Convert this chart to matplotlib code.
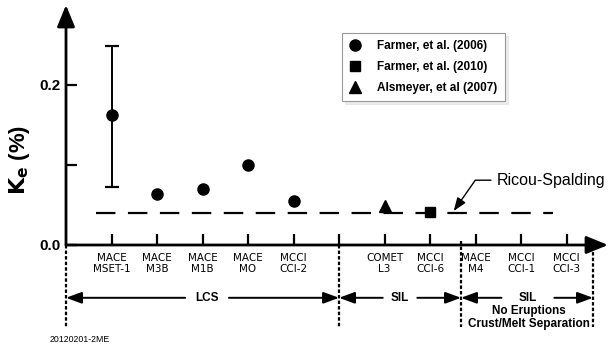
import numpy as np
import matplotlib.pyplot as plt

plt.rcParams['lines.scale_dashes'] = False

# categories along the x axis (slot 6 is the LCS / SIL separator)
categories = ["MACE\nMSET-1", "MACE\nM3B", "MACE\nM1B", "MACE\nMO", "MCCI\nCCI-2",
              "COMET\nL3", "MCCI\nCCI-6", "MACE\nM4", "MCCI\nCCI-1", "MCCI\nCCI-3"]
cat_x = np.array([1, 2, 3, 4, 5, 7, 8, 9, 10, 11])

# Farmer, et al. (2006)
farmer06_cats = ["MACE\nMSET-1", "MACE\nM3B", "MACE\nM1B", "MACE\nMO", "MCCI\nCCI-2"]
farmer06_ke = [0.1625, 0.064, 0.070, 0.100, 0.055]
mset1_low, mset1_high = 0.0725, 0.249
# Farmer, et al. (2010)
farmer10_cats = ["MCCI\nCCI-6"]
farmer10_ke = [0.041]
# Alsmeyer, et al (2007)
alsmeyer_cats = ["COMET\nL3"]
alsmeyer_ke = [0.049]
ricou_spalding = 0.040

separators = [0, 6, 8.68, 11.58]
groups = [(["LCS"], 0, 6, 3.10, 0.48), (["SIL"], 6, 8.68, 7.34, 0.38),
          (["SIL", "No Eruptions", "Crust/Melt Separation"], 8.68, 11.58, 10.15, 0.58)]

pos = dict(zip(categories, cat_x))
bold = dict(family='Liberation Sans', weight='bold')

fig = plt.figure(figsize=(6.11, 3.5), dpi=100)
ax = fig.add_axes([66 / 611, 105 / 350, 542 / 611, 240 / 350])
ax.set_xlim(0, 11.91)
ax.set_ylim(0, 0.30)
for s in ax.spines.values():
    s.set_visible(False)

# axes with arrow heads
arr = dict(arrowstyle='-|>,head_length=1.1,head_width=0.45', color='black', lw=2,
           shrinkA=0, shrinkB=0, mutation_scale=12)
ax.annotate('', xy=(11.91, 0), xytext=(0, 0), arrowprops=arr, annotation_clip=False)
ax.annotate('', xy=(0, 0.30), xytext=(0, 0), arrowprops=arr, annotation_clip=False)

ax.set_xticks(list(cat_x) + [6])
ax.set_xticklabels(categories + [''], family='DejaVu Sans', fontsize=7.5, linespacing=1.1,
                   color='#222222')
ax.tick_params(axis='x', direction='in', length=8, width=1.6, pad=6, colors='black')
ax.set_yticks([0.0, 0.1, 0.2])
ax.set_yticklabels(['0.0', '', '0.2'], fontsize=11, **bold)
ax.tick_params(axis='y', direction='in', length=8, width=1.6, pad=4)

# Ricou-Spalding line
ax.plot([0.65, 10.71], [ricou_spalding] * 2, color='black', lw=1.6, dashes=(14, 9))

# data
ax.errorbar([pos[farmer06_cats[0]]], [farmer06_ke[0]],
            yerr=[[farmer06_ke[0] - mset1_low], [mset1_high - farmer06_ke[0]]],
            fmt='none', ecolor='black', elinewidth=1.4, capsize=5, capthick=1.6)
ax.plot([pos[c] for c in farmer06_cats], farmer06_ke, 'o', color='black', ms=8,
        label='Farmer, et al. (2006)', zorder=5)
ax.plot([pos[c] for c in farmer10_cats], farmer10_ke, 's', color='black', ms=7.5,
        label='Farmer, et al. (2010)', zorder=5)
ax.plot([pos[c] for c in alsmeyer_cats], alsmeyer_ke, '^', color='black', ms=8.5,
        label='Alsmeyer, et al (2007)', zorder=5)

leg = ax.legend(loc='upper left', bbox_to_anchor=(342 / 611, 1 - 33 / 350),
                bbox_transform=fig.transFigure, prop=dict(size=8.5, **bold),
                frameon=True, fancybox=False, shadow={'color': '0.86', 'ox': 2, 'oy': -2},
                handlelength=1.0, handletextpad=1.4, labelspacing=0.75, borderpad=0.6,
                borderaxespad=0)
leg.get_frame().set_edgecolor('#999999')
leg.get_frame().set_linewidth(0.8)

# Ricou-Spalding label with leader
ax.annotate('Ricou-Spalding', xy=(8.52, 0.0425), xytext=(9.46, 0.081),
            fontsize=11.5, family='Liberation Sans', ha='left', va='center',
            annotation_clip=False,
            arrowprops=dict(arrowstyle='-|>,head_length=0.8,head_width=0.3', color='black',
                            lw=1.0, shrinkA=2, shrinkB=0, mutation_scale=10,
                            connectionstyle='angle,angleA=0,angleB=55', relpos=(0, 0.5)))

# separators below the axis
for sx in separators:
    ax.plot([sx, sx], [0.005 if sx > 6 else 0, -0.103], color='black', lw=1.6,
            dashes=(2.5, 1.5), clip_on=False)

# group arrows
ya = -0.066
harr = dict(arrowstyle='-|>,head_length=0.95,head_width=0.35', color='black', lw=1.4,
            shrinkA=0, shrinkB=0, mutation_scale=10)
for labels, x0, x1, xc, gap in groups:
    ax.annotate('', xy=(x0, ya), xytext=(xc - gap, ya), arrowprops=harr, annotation_clip=False)
    ax.annotate('', xy=(x1, ya), xytext=(xc + gap, ya), arrowprops=harr, annotation_clip=False)
    for k, lab in enumerate(labels):
        ax.text(xc if k == 0 else (x0 + x1) / 2 + 0.05, ya - 0.0165 * k, lab, ha='center',
                va='center', fontsize=8.5, clip_on=False, **bold)

fig.text(50 / 611, 1 - 340 / 350, '20120201-2ME', fontsize=6.3, family='Liberation Sans',
         va='center', ha='left')
fig.text(20 / 611, 1 - 160 / 350, r'$\mathbf{K_e}$ (%)', rotation=90, fontsize=16,
         ha='center', va='center', **bold)

fig.savefig('out.png', dpi=100)
